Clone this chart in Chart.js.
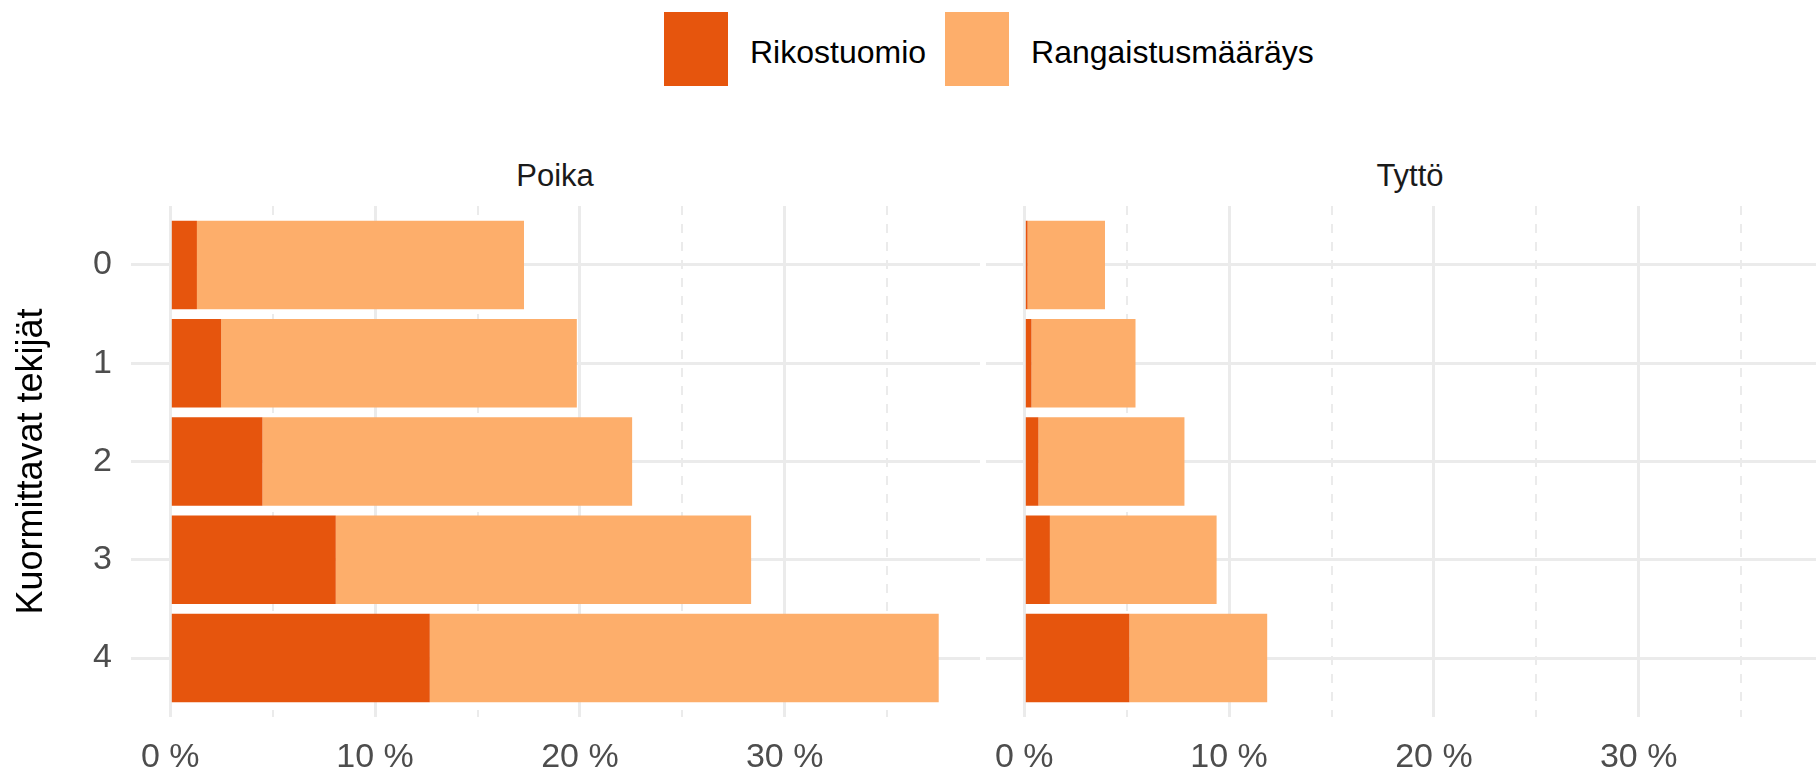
<!DOCTYPE html>
<html>
<head>
<meta charset="utf-8">
<script src="https://cdn.jsdelivr.net/npm/chart.js@4.4.1/dist/chart.umd.min.js"></script>
<style>
  html, body { margin: 0; padding: 0; background: #fff; }
  body { width: 1816px; height: 773px; position: relative; overflow: hidden; font-family: "Liberation Sans", Arial, sans-serif; }
  canvas { position: absolute; top: 0; }
  #poika { left: 0; }
  #tytto { left: 984px; }
  .strip { position: absolute; top: 160px; font-size: 31px; line-height: 31px; color: #1a1a1a; transform: translateX(-50%); white-space: nowrap; }
  #legend { position: absolute; left: 664px; top: 12px; height: 74px; display: flex; align-items: center; }
  #legend .key { width: 64px; height: 74px; margin-right: 22px; }
  #legend .lab { font-size: 32px; line-height: 32px; color: #000; margin-right: 19px; position: relative; top: 3px; white-space: nowrap; }
</style>
</head>
<body>
<div id="legend"></div>
<div class="strip" style="left:555px">Poika</div>
<div class="strip" style="left:1410px">Tyttö</div>
<canvas id="poika" width="983" height="773"></canvas>
<canvas id="tytto" width="832" height="773"></canvas>
<script>
const categories = ['0', '1', '2', '3', '4'];
const seriesNames = ['Rikostuomio', 'Rangaistusmääräys'];
const seriesColors = ['#E6550D', '#FDAE6B'];
const xTickValues = [0, 5, 10, 15, 20, 25, 30, 35];

// percentages (segment lengths)
const poikaRikostuomio = [1.3, 2.48, 4.5, 8.08, 12.67];
const poikaRangaistus = [15.97, 17.37, 18.05, 20.28, 24.85];
const tyttoRikostuomio = [0.16, 0.35, 0.69, 1.25, 5.13];
const tyttoRangaistus = [3.78, 5.08, 7.13, 8.14, 6.73];

const FONT = '"Liberation Sans", Arial, sans-serif';
const GRID = '#EBEBEB';

const legend = document.getElementById('legend');
seriesNames.forEach((name, i) => {
  const key = document.createElement('div');
  key.className = 'key';
  key.style.background = seriesColors[i];
  const lab = document.createElement('div');
  lab.className = 'lab';
  lab.textContent = name;
  legend.appendChild(key);
  legend.appendChild(lab);
});

function panelChart(id, rikos, rangaistus, isLeft, xMin, xMax) {
  return new Chart(document.getElementById(id), {
    type: 'bar',
    data: {
      labels: categories,
      datasets: [
        { label: seriesNames[0], data: rikos, backgroundColor: seriesColors[0], borderWidth: 0 },
        { label: seriesNames[1], data: rangaistus, backgroundColor: seriesColors[1], borderWidth: 0 },
      ]
    },
    options: {
      indexAxis: 'y',
      responsive: false,
      animation: false,
      categoryPercentage: 1,
      barPercentage: 0.9,
      layout: { padding: { top: 206, left: isLeft ? 0 : 2, right: isLeft ? 3 : 0, bottom: 0 } },
      plugins: { legend: { display: false }, tooltip: { enabled: false } },
      scales: {
        x: {
          type: 'linear',
          stacked: true,
          min: xMin,
          max: xMax,
          afterBuildTicks: s => { s.ticks = xTickValues.map(v => ({ value: v })); },
          afterFit: s => { s.height = 56; s.paddingLeft = 0; s.paddingRight = 0; },
          grid: {
            color: GRID,
            lineWidth: c => (c.tick && c.tick.value % 10 ? 2 : 3),
            drawTicks: false,
          },
          border: { display: false, dash: c => (c.tick && c.tick.value % 10 ? [9, 9] : []) },
          ticks: {
            autoSkip: false,
            maxRotation: 0,
            padding: 20,
            color: '#4D4D4D',
            font: { family: FONT, size: 34 },
            callback: v => (v % 10 === 0 ? v + ' %' : ''),
          },
        },
        y: {
          type: 'linear',
          stacked: true,
          reverse: true,
          offset: false,
          min: -0.6,
          max: 4.6,
          afterBuildTicks: s => { s.ticks = categories.map((c, i) => ({ value: i })); },
          afterFit: s => { s.width = isLeft ? 131 : 0; s.paddingTop = 0; s.paddingBottom = 0; },
          grid: { color: GRID, lineWidth: 3, drawTicks: false, offset: false },
          border: { display: false },
          ticks: {
            display: isLeft,
            padding: 19,
            color: '#4D4D4D',
            font: { family: FONT, size: 34 },
            callback: v => categories[v],
          },
          title: {
            display: isLeft,
            text: 'Kuormittavat tekijät',
            color: '#000',
            font: { family: FONT, size: 36 },
            padding: { top: 10, bottom: 0 },
          },
        },
      },
    },
  });
}

panelChart('poika', poikaRikostuomio, poikaRangaistus, true, -1.919, 39.536);
panelChart('tytto', tyttoRikostuomio, tyttoRangaistus, false, -1.870, 38.657);
</script>
</body>
</html>
